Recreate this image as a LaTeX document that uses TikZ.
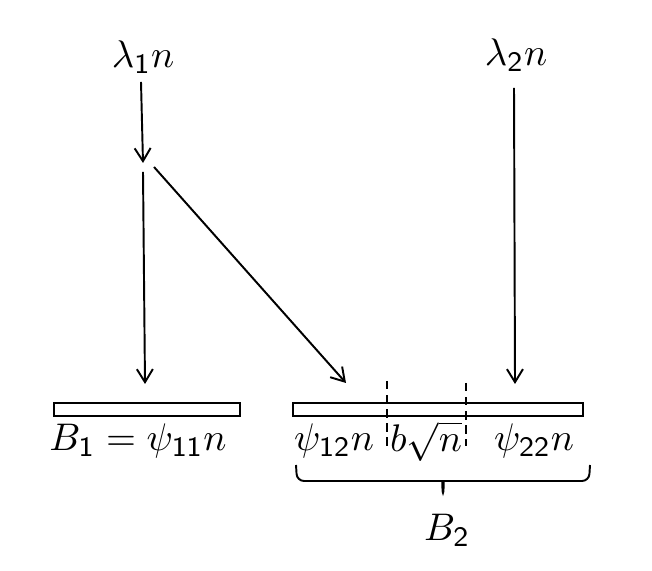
\documentclass[tikz,border=0pt]{standalone}
\usepackage{amsmath}
\usetikzlibrary{arrows.meta, positioning, calc}

\begin{document}
\begin{tikzpicture}[
    x=0.01cm, y=-0.01cm,
    font=\fontsize{11}{13}\selectfont,
    every node/.style={inner sep=1pt},
    flow/.style={-{Straight Barb[length=1.3mm, width=1.6mm]}, line width=0.55pt},
    bin/.style={rectangle, draw, line width=0.6pt, minimum height=0.13cm, inner sep=0pt},
    cut/.style={line width=0.55pt, dash pattern=on 2.4pt off 1.6pt},
    brace/.style={line width=0.55pt}
]
\useasboundingbox (0,0) rectangle (652,571);

% sources
\node (lam1) at (143,57) {$\lambda_{\mathsf{1}} n$};
\node (lam2) at (516,55) {$\lambda_{\mathsf{2}} n$};

% bins
\node[bin, minimum width=1.86cm] (bin1) at (147,409.5) {};
\node[bin, minimum width=2.90cm] (bin2) at (438,409.5) {};

% points where the flows start, split and land
\coordinate (out1) at (141,82);
\coordinate (out2) at (514,88);
\coordinate (split) at (143,163);
\coordinate (down1) at (143,172);
\coordinate (diag1) at (154,167);
\coordinate (land1) at (145,384);
\coordinate (land2) at (346,383);
\coordinate (land3) at (515,384);

\draw[flow] (out1) -- (split);
\draw[flow] (down1) -- (land1);
\draw[flow] (diag1) -- (land2);
\draw[flow] (out2) -- (land3);

% split of the second bin
\draw[cut] (387,381) -- (387,446);
\draw[cut] (466,383) -- (466,446);

% labels
\node (lab1) at (138,441) {$B_{\mathsf{1}} = \psi_{\mathsf{11}} n$};
\node (lab2) at (334,441) {$\psi_{\mathsf{12}} n$};
\node (lab3) at (426,441) {$b\sqrt{n}$};
\node (lab4) at (534,441) {$\psi_{\mathsf{22}} n$};

% brace under the second bin
\coordinate (bl) at (296,465);
\coordinate (br) at (590,465);
\coordinate (tip) at (443,497);
\draw[brace, rounded corners=2pt] (bl) -- (297,481) -- (437,481)
    .. controls (442,481) .. (tip) .. controls (444,481) .. (449,481)
    -- (589,481) -- (br);
\node (lab5) at (447,530) {$B_{\mathsf{2}}$};
\end{tikzpicture}
\end{document}
